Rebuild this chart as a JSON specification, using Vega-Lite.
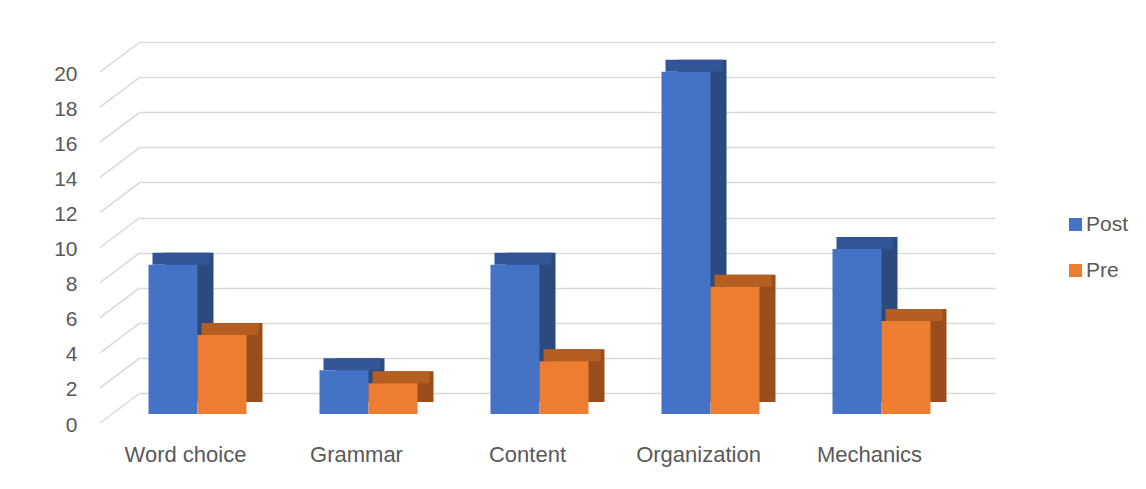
{
  "$schema": "https://vega.github.io/schema/vega-lite/v6.json",
  "width": 855,
  "height": 351,
  "autosize": {"type": "none"},
  "padding": {"left": 140, "top": 42, "right": 151, "bottom": 96},
  "background": "white",
  "config": {
    "view": {"stroke": null},
    "font": "Liberation Sans",
    "axisX": {
      "grid": false,
      "domain": false,
      "ticks": false,
      "tickSize": 0,
      "labelAngle": 0,
      "labelPadding": 51,
      "labelOffset": -40,
      "labelFontSize": 22,
      "labelColor": "#595959",
      "labelFont": "Liberation Sans"
    },
    "axisY": {
      "grid": true,
      "gridColor": "#D9D9D9",
      "gridWidth": 1.5,
      "domain": false,
      "ticks": false,
      "tickSize": 0,
      "tickCount": 10,
      "labelPadding": 63,
      "labelOffset": 32,
      "labelFontSize": 21,
      "labelColor": "#595959",
      "labelFont": "Liberation Sans"
    }
  },
  "datasets": {
    "scores": [
      {"category": "Word choice", "series": "Post", "value": 8.5},
      {"category": "Word choice", "series": "Pre", "value": 4.5},
      {"category": "Grammar", "series": "Post", "value": 2.5},
      {"category": "Grammar", "series": "Pre", "value": 1.75},
      {"category": "Content", "series": "Post", "value": 8.5},
      {"category": "Content", "series": "Pre", "value": 3},
      {"category": "Organization", "series": "Post", "value": 19.5},
      {"category": "Organization", "series": "Pre", "value": 7.25},
      {"category": "Mechanics", "series": "Post", "value": 9.4},
      {"category": "Mechanics", "series": "Pre", "value": 5.3}
    ],
    "grid": [
      {"value": 0}, {"value": 2}, {"value": 4}, {"value": 6}, {"value": 8}, {"value": 10},
      {"value": 12}, {"value": 14}, {"value": 16}, {"value": 18}, {"value": 20}
    ]
  },
  "layer": [
    {
      "data": {"name": "grid"},
      "mark": {"type": "rule", "color": "#D9D9D9", "strokeWidth": 1.5, "xOffset": -40, "x2Offset": 0, "yOffset": 30, "y2Offset": 0},
      "encoding": {
        "x": {"value": 0},
        "x2": {"value": 0},
        "y": {
          "field": "value", "type": "quantitative", "title": null,
          "scale": {"domain": [0, 20], "nice": false, "zero": true}
        },
        "y2": {"field": "value"}
      }
    },
    {
      "data": {"name": "scores"},
      "transform": [{"filter": "datum.series === 'Post'"}],
      "mark": {"type": "bar", "color": "#2A4A80", "width": {"band": 0.5}, "xOffset": -36.5, "yOffset": 9, "y2Offset": 9},
      "encoding": {
        "x": {
          "field": "category", "type": "nominal", "sort": null, "title": null,
          "scale": {"paddingInner": 0.427, "paddingOuter": 0.2135}
        },
        "y": {"field": "value", "type": "quantitative", "title": null}
      }
    },
    {
      "data": {"name": "scores"},
      "transform": [{"filter": "datum.series === 'Post'"}],
      "mark": {"type": "bar", "color": "#325597", "width": 57, "xOffset": -44.5, "yOffset": 9, "y2Offset": 21},
      "encoding": {
        "x": {"field": "category", "type": "nominal", "sort": null, "title": null},
        "y": {"field": "value", "type": "quantitative", "title": null},
        "y2": {"field": "value"}
      }
    },
    {
      "data": {"name": "scores"},
      "transform": [{"filter": "datum.series === 'Post'"}],
      "mark": {"type": "bar", "width": {"band": 0.5}, "xOffset": -52.5, "yOffset": 21, "y2Offset": 21},
      "encoding": {
        "x": {"field": "category", "type": "nominal", "sort": null, "title": null},
        "y": {"field": "value", "type": "quantitative", "title": null},
        "color": {
          "field": "series", "type": "nominal",
          "scale": {"domain": ["Post", "Pre"], "range": ["#4472C4", "#ED7D31"]},
          "legend": {
            "title": null,
            "orient": "none",
            "legendX": 925,
            "legendY": 172,
            "padding": 0,
            "symbolType": "square",
            "symbolSize": 169,
            "symbolStrokeWidth": 0,
            "labelFontSize": 21,
            "labelColor": "#595959",
            "labelFont": "Liberation Sans",
            "labelOffset": 0,
            "rowPadding": 24
          }
        }
      }
    },
    {
      "data": {"name": "scores"},
      "transform": [{"filter": "datum.series === 'Pre'"}],
      "mark": {"type": "bar", "color": "#9A4E1C", "width": {"band": 0.5}, "xOffset": 12.5, "yOffset": 9, "y2Offset": 9},
      "encoding": {
        "x": {"field": "category", "type": "nominal", "sort": null, "title": null},
        "y": {"field": "value", "type": "quantitative", "title": null}
      }
    },
    {
      "data": {"name": "scores"},
      "transform": [{"filter": "datum.series === 'Pre'"}],
      "mark": {"type": "bar", "color": "#B55E22", "width": 57, "xOffset": 4.5, "yOffset": 9, "y2Offset": 21},
      "encoding": {
        "x": {"field": "category", "type": "nominal", "sort": null, "title": null},
        "y": {"field": "value", "type": "quantitative", "title": null},
        "y2": {"field": "value"}
      }
    },
    {
      "data": {"name": "scores"},
      "transform": [{"filter": "datum.series === 'Pre'"}],
      "mark": {"type": "bar", "width": {"band": 0.5}, "xOffset": -3.5, "yOffset": 21, "y2Offset": 21},
      "encoding": {
        "x": {"field": "category", "type": "nominal", "sort": null, "title": null},
        "y": {"field": "value", "type": "quantitative", "title": null},
        "color": {"field": "series", "type": "nominal"}
      }
    }
  ]
}
